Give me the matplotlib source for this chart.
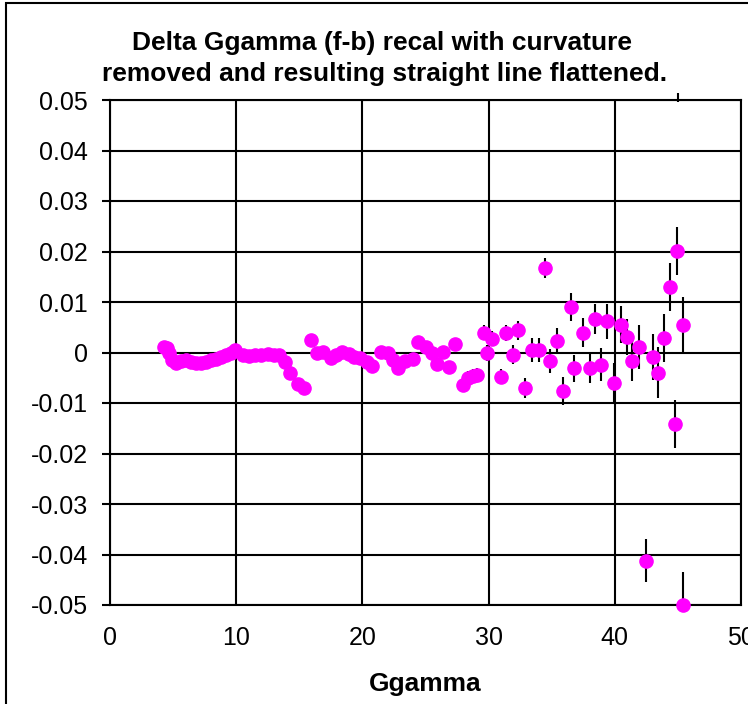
import matplotlib
matplotlib.use('Agg')
import matplotlib.pyplot as plt
from matplotlib import font_manager
from matplotlib.patches import Rectangle

# Ggamma values and the flattened residuals with their uncertainties
ggamma = [4.3, 4.5, 4.7, 4.9, 5.2, 5.6, 6.0, 6.4, 6.8, 7.2, 7.6, 8.0, 8.4, 8.8,
          9.2, 9.6, 9.9, 10.5, 11.0, 11.5, 12.0, 12.5, 13.0, 13.4, 13.9, 14.3,
          14.9, 15.4, 15.9, 16.4, 16.9, 17.5, 17.9, 18.4, 18.9, 19.3, 19.8, 20.4,
          20.8, 21.5, 22.0, 22.4, 22.8, 23.4, 24.0, 24.4, 25.0, 25.5, 25.9, 26.4,
          26.9, 27.3, 28.0, 28.4, 28.8, 29.1, 29.6, 29.9, 30.3, 31.0, 31.4, 31.9,
          32.3, 32.9, 33.4, 34.0, 34.5, 34.9, 35.4, 35.9, 36.5, 36.8, 37.5, 38.0,
          38.4, 38.9, 39.4, 39.9, 40.5, 41.0, 41.4, 41.9, 42.5, 43.0, 43.4, 43.9,
          44.4, 44.8, 44.9, 45.4, 45.4]
delta = [0.0010, 0.0008, 0.0000, -0.0015, -0.0020, -0.0017, -0.0015, -0.0019,
         -0.0020, -0.0020, -0.0018, -0.0015, -0.0013, -0.0008, -0.0004, 0.0000,
         0.0005, -0.0005, -0.0006, -0.0004, -0.0005, -0.0003, -0.0005, -0.0004,
         -0.0018, -0.0040, -0.0062, -0.0070, 0.0024, -0.0001, 0.0001, -0.0010,
         -0.0004, 0.0001, -0.0003, -0.0008, -0.0010, -0.0018, -0.0026, 0.0001,
         0.0000, -0.0015, -0.0030, -0.0016, -0.0013, 0.0021, 0.0011, -0.0001,
         -0.0023, 0.0001, -0.0029, 0.0017, -0.0064, -0.0051, -0.0047, -0.0044,
         0.0039, -0.0001, 0.0027, -0.0048, 0.0039, -0.0004, 0.0044, -0.0070,
         0.0005, 0.0005, 0.0167, -0.0017, 0.0023, -0.0076, 0.0090, -0.0031,
         0.0039, -0.0031, 0.0066, -0.0024, 0.0062, -0.0060, 0.0055, 0.0031,
         -0.0016, 0.0011, -0.0412, -0.0009, -0.0040, 0.0029, 0.0130, -0.0142,
         0.0201, 0.0055, -0.0500]
err = [0.0005] * 45 + [0.0010, 0.0010, 0.0012, 0.0013, 0.0010, 0.0013, 0.0010,
       0.0014, 0.0014, 0.0014, 0.0014, 0.0015, 0.0015, 0.0015, 0.0015, 0.0016,
       0.0018, 0.0019, 0.0020, 0.0023, 0.0023, 0.0020, 0.0023, 0.0026, 0.0028,
       0.0028, 0.0027, 0.0029, 0.0029, 0.0030, 0.0032, 0.0035, 0.0040, 0.0037,
       0.0035, 0.0040, 0.0043, 0.0043, 0.0046, 0.0050, 0.0047, 0.0048, 0.0048,
       0.0047, 0.0054, 0.0065]

# one reading lies above the plotted range, only its error bar shows
off_x = [45.0]
off_y = [0.0505]
off_err = [0.0009]

xticks = [0, 10, 20, 30, 40, 50]
yticks = [0.05, 0.04, 0.03, 0.02, 0.01, 0, -0.01, -0.02, -0.03, -0.04, -0.05]
ylabels = ['0.05', '0.04', '0.03', '0.02', '0.01', '0', '-0.01', '-0.02',
           '-0.03', '-0.04', '-0.05']

installed = {f.name for f in font_manager.fontManager.ttflist}
if 'Liberation Sans Narrow' in installed:
    family, tick_size, title_size, label_size = 'Liberation Sans Narrow', 21, 22.5, 20.5
else:
    family, tick_size, title_size, label_size = 'Liberation Sans', 18, 19, 19
plt.rcParams['font.family'] = family

W, H = 748, 704
fig = plt.figure(figsize=(W / 100, H / 100), dpi=100)
ax = fig.add_axes([110 / W, 99 / H, 631 / W, 505 / H])

ax.errorbar(ggamma, delta, yerr=err, fmt='none', ecolor='black',
            elinewidth=1.5, capsize=0, zorder=3)
ax.errorbar(off_x, off_y, yerr=off_err, fmt='none', ecolor='black',
            elinewidth=1.5, capsize=0, zorder=3, clip_on=False)
ax.plot(ggamma, delta, 'o', color='#FF00FF', mec='#FF00FF', ms=9.5,
        clip_on=False, zorder=4)

ax.set_xlim(0, 50)
ax.set_ylim(-0.05, 0.05)
ax.set_xticks(xticks)
ax.set_xticklabels([str(t) for t in xticks])
ax.set_yticks(yticks)
ax.set_yticklabels(ylabels)
ax.grid(True, color='black', lw=1.5)
ax.set_axisbelow(True)
for s in ax.spines.values():
    s.set_color('black')
    s.set_linewidth(1.5)
ax.tick_params(axis='y', direction='out', length=6, width=1.5, pad=10,
               labelsize=tick_size)
ax.tick_params(axis='x', length=0, pad=15, labelsize=tick_size)

fig.text(382 / W, 1 - 43 / H, 'Delta Ggamma (f-b) recal with curvature',
         ha='center', va='center', fontsize=title_size, fontweight='bold')
fig.text(385 / W, 1 - 74 / H, 'removed and resulting straight line flattened.',
         ha='center', va='center', fontsize=title_size, fontweight='bold')
fig.text(425 / W, 1 - 684 / H, 'Ggamma', ha='center', va='center',
         fontsize=label_size, fontweight='bold')

# chart border
fig.patches.append(Rectangle((6 / W, -0.05), 1.1, 1 - 3 / H + 0.05,
                             transform=fig.transFigure, fill=False,
                             ec='black', lw=1.5))

fig.savefig('out.png', dpi=100, facecolor='white')
